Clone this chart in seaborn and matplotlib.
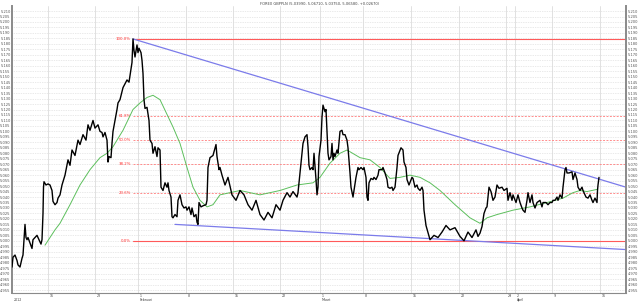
import matplotlib
matplotlib.use("Agg")
import matplotlib.pyplot as plt
import seaborn as sns
import numpy as np
import pandas as pd

# ---------------- data ----------------
bars = [0, 1, 3, 5, 6, 8, 10, 11, 12, 13, 14, 15, 16, 18, 20, 21, 23, 25, 26, 27, 29, 30, 31, 31.5, 32, 34, 36, 38, 40, 41, 43, 45, 46, 48,
        50, 53, 56, 58, 60, 63, 66, 68, 71, 74, 76, 78, 81, 83, 86, 88,
        90, 91, 93, 95, 96, 97, 99, 100, 101, 103, 105, 106, 108, 111, 115, 117, 120, 121, 122, 123, 125, 126, 127, 129, 130, 131, 132, 133,
        135, 137, 138, 140, 141, 143, 145, 146, 148, 149, 151, 153, 155, 156, 157, 159, 160, 161, 163, 165, 166, 168, 170, 172, 174, 175,
        177, 179, 180, 182, 184, 185, 186, 187, 189, 191, 194, 195, 196, 198, 201, 204, 205, 207, 208,
        210, 213, 216, 220, 224, 228, 232, 236, 240, 244, 248, 252, 256, 260, 264,
        268, 271, 275, 278, 281, 285, 286, 288, 290, 291, 293, 295, 296, 297, 298, 300, 301, 302, 304, 305, 306, 307, 309, 310, 311, 313,
        314, 315, 316, 317, 319, 320, 321, 322, 323, 325, 326, 328, 330, 331, 333, 335, 336, 338, 339, 341, 342, 344, 346, 347, 349, 351,
        352, 354, 355, 356, 357, 359, 361, 362, 364, 366, 367, 370, 371, 373, 375, 376, 378, 380, 381, 383, 385, 386, 389, 391, 392, 394,
        395, 397, 400, 401, 403, 405, 406, 408, 410, 411, 412,
        414, 418, 422, 426, 430, 434, 438, 443, 448, 452, 456, 460, 464, 466,
        468, 470, 472, 474, 475, 477, 479, 481, 483, 485, 487, 490, 492, 495, 496, 498, 500, 501, 504, 506, 508, 510, 511, 513, 515, 516,
        518, 520, 521, 523, 525, 528, 530, 531, 534, 536, 538, 540, 541, 543, 545, 546, 548, 550, 551, 553, 554, 555, 557, 560, 561, 563,
        565, 566, 568, 570, 571, 574, 576, 578, 580, 581, 583, 585, 585.5, 586, 587]
close = [4.976, 4.985, 4.987, 4.982, 4.978, 4.976, 4.984, 4.987, 5.001, 5.015, 5.003, 5.001, 5.003, 4.998, 4.993, 5.001, 5.003, 5.005, 5.003, 5.001, 4.997, 5.001, 5.025, 5.049, 5.054, 5.051, 5.052, 5.051, 5.046, 5.036, 5.033, 5.035, 5.039, 5.042,
         5.051, 5.060, 5.074, 5.069, 5.083, 5.078, 5.092, 5.088, 5.097, 5.092, 5.106, 5.101, 5.110, 5.103, 5.106, 5.100,
         5.099, 5.095, 5.099, 5.092, 5.072, 5.077, 5.076, 5.089, 5.100, 5.110, 5.120, 5.126, 5.129, 5.140, 5.147, 5.145, 5.163, 5.1845, 5.174, 5.168, 5.179, 5.172, 5.176, 5.172, 5.165, 5.153, 5.129, 5.121,
         5.122, 5.110, 5.092, 5.089, 5.080, 5.086, 5.077, 5.085, 5.083, 5.049, 5.046, 5.053, 5.049, 5.053, 5.046, 5.040, 5.022, 5.021, 5.024, 5.022, 5.037, 5.042, 5.033, 5.030, 5.031, 5.028,
         5.031, 5.024, 5.030, 5.022, 5.024, 5.017, 5.015, 5.035, 5.031, 5.032, 5.033, 5.037, 5.067, 5.076, 5.078, 5.088, 5.077, 5.065, 5.067,
         5.060, 5.051, 5.058, 5.042, 5.037, 5.046, 5.042, 5.033, 5.028, 5.037, 5.024, 5.019, 5.026, 5.021, 5.033,
         5.028, 5.037, 5.044, 5.040, 5.045, 5.040, 5.044, 5.062, 5.080, 5.089, 5.095, 5.097, 5.086, 5.069, 5.065, 5.067, 5.065, 5.080, 5.056, 5.042, 5.049, 5.077, 5.092, 5.113, 5.124, 5.118,
         5.120, 5.099, 5.080, 5.074, 5.077, 5.089, 5.074, 5.080, 5.077, 5.083, 5.080, 5.100, 5.101, 5.097, 5.097, 5.092, 5.085, 5.062, 5.049, 5.040, 5.046, 5.058, 5.067, 5.065, 5.067, 5.065,
         5.067, 5.058, 5.040, 5.037, 5.053, 5.057, 5.056, 5.058, 5.056, 5.060, 5.065, 5.065, 5.067, 5.062, 5.056, 5.049, 5.048, 5.049, 5.046, 5.049, 5.067, 5.078, 5.085, 5.083, 5.072, 5.067,
         5.056, 5.051, 5.058, 5.057, 5.049, 5.051, 5.048, 5.046, 5.049, 5.046, 5.028,
         5.014, 5.001, 5.005, 5.003, 5.008, 5.014, 5.010, 5.012, 5.004, 5.000, 5.008, 5.003, 5.010, 5.004,
         5.007, 5.013, 5.025, 5.030, 5.031, 5.049, 5.045, 5.037, 5.040, 5.051, 5.048, 5.049, 5.046, 5.048, 5.037, 5.044, 5.037, 5.042, 5.035, 5.042, 5.035, 5.030, 5.028, 5.026, 5.037, 5.044,
         5.035, 5.042, 5.035, 5.030, 5.035, 5.037, 5.031, 5.035, 5.035, 5.033, 5.035, 5.035, 5.037, 5.037, 5.040, 5.037, 5.042, 5.039, 5.049, 5.065, 5.067, 5.062, 5.062, 5.063, 5.056, 5.062,
         5.056, 5.049, 5.046, 5.049, 5.046, 5.040, 5.039, 5.042, 5.037, 5.035, 5.039, 5.035, 5.046, 5.051, 5.058]

ma_bars = [33, 43, 48, 58, 68, 78, 88, 95, 101, 111, 121, 128, 135, 141, 148, 161, 168, 175, 181, 188, 195, 201, 208, 228, 248,
           268, 285, 301, 308, 318, 328, 335, 348, 358, 368, 378, 388, 398, 408, 418, 428, 443, 458, 468, 475, 485, 501, 518, 535,
           551, 561, 568, 575, 585]
ma_vals = [4.996, 5.010, 5.016, 5.033, 5.051, 5.065, 5.076, 5.080, 5.086, 5.101, 5.120, 5.126, 5.131, 5.133, 5.129, 5.104, 5.089,
           5.067, 5.049, 5.037, 5.031, 5.033, 5.042, 5.046, 5.042, 5.046, 5.051, 5.053, 5.058, 5.071, 5.080, 5.083, 5.076, 5.074,
           5.067, 5.057, 5.058, 5.060, 5.058, 5.053, 5.046, 5.033, 5.021, 5.016, 5.021, 5.024, 5.028, 5.031, 5.035, 5.039, 5.044,
           5.046, 5.045, 5.047]

fib_ratios = [0.0, 23.6, 38.2, 50.0, 61.8, 100.0]
fib_high = 5.1845
fib_low = 5.000
fib_start_bar = 121

upper_trend_bars = [121, 614]
upper_trend_vals = [5.1845, 5.049]
lower_trend_bars = [163, 614]
lower_trend_vals = [5.015, 4.992]

date_tick_bars = [36, 83, 126, 174, 221, 268, 308, 351, 399, 447, 494, 503, 540, 588]
date_tick_labels = ["16", "23", "1", "8", "15", "22", "1", "8", "15", "22", "29", "2", "9", "16"]
month_bars = [0, 126, 308, 503]
month_labels = ["2012", "Februari", "Maart", "April"]

title_text = "FOREX GBPPLN (5.03990, 5.06710, 5.03750, 5.06580, +0.02670)"

y_min, y_max = 4.9523, 5.2146
tick_lo, tick_hi, tick_step = 4.955, 5.210, 0.005
x_max = 614

# ---------------- drawing ----------------
sns.set_theme(style="white")
plt.rcParams['font.family'] = ['DejaVu Sans']

fig = plt.figure(figsize=(6.4, 3.02), dpi=100)
fig.patch.set_facecolor("white")
ax = fig.add_axes([12 / 640, 9 / 302, 614 / 640, 287 / 302])
ax.set_facecolor("white")

ax.set_xlim(0, x_max)
ax.set_ylim(y_min, y_max)

yt = np.round(np.arange(tick_lo, tick_hi + tick_step / 2, tick_step), 3)
ax.set_yticks(yt)
ax.set_yticklabels([f"{v:.3f}" for v in yt])
ax.tick_params(axis="y", which="both", labelsize=2.6, length=0, pad=1.0,
               labelleft=True, labelright=True, colors="#444444")
for t in ax.get_yticklabels():
    t.set_color("#555555")

# grid
for v in yt:
    ax.axhline(v, color="#d4d4d4", lw=0.5, ls=(0, (1, 1.5)), zorder=0)
for b in date_tick_bars:
    ax.axvline(b, color="#dcdcdc", lw=0.6, zorder=0)

# fibonacci levels
rng = fib_high - fib_low
for r in fib_ratios:
    lvl = fib_low + rng * r / 100.0
    solid = r in (0.0, 100.0)
    ax.plot([fib_start_bar, x_max], [lvl, lvl], color="#ff5a5a" if solid else "#ff8c8c",
            lw=0.8 if solid else 0.7, ls="-" if solid else (0, (2, 1.5)), zorder=1)
    ax.text(fib_start_bar - 2, lvl, f"{r:.1f}%", color="#ff3030", fontsize=2.8,
            ha="right", va="center", zorder=3)

# trend lines
tl = pd.DataFrame({"bar": upper_trend_bars + lower_trend_bars,
                   "value": upper_trend_vals + lower_trend_vals,
                   "line": ["up", "up", "low", "low"]})
sns.lineplot(data=tl, x="bar", y="value", units="line", estimator=None,
             color="#7b7bea", lw=0.9, ax=ax, zorder=2)

# moving average
ma_df = pd.DataFrame({"bar": ma_bars, "value": ma_vals})
sns.lineplot(data=ma_df, x="bar", y="value", color="#5cbf5c", lw=0.7, ax=ax, zorder=3)

# price
px_df = pd.DataFrame({"bar": bars, "value": close})
sns.lineplot(data=px_df, x="bar", y="value", color="black", lw=1.0, ax=ax, zorder=4)

ax.set_xlabel("")
ax.set_ylabel("")

# x axis (date bar)
ax.set_xticks(date_tick_bars)
ax.set_xticklabels([])
ax.tick_params(axis="x", length=3.2, width=0.6, colors="#666666", direction="out")
for b, lab in zip(date_tick_bars, date_tick_labels):
    ax.annotate(lab, xy=(b, 0), xycoords=("data", "axes fraction"),
                xytext=(1.2, -0.5), textcoords="offset points",
                fontsize=2.3, color="#444444", ha="left", va="top", annotation_clip=False)
for b, lab in zip(month_bars, month_labels):
    ax.annotate(lab, xy=(b, 0), xycoords=("data", "axes fraction"),
                xytext=(1.2, -3.4), textcoords="offset points",
                fontsize=2.3, color="#444444", ha="left", va="top", annotation_clip=False)

for side in ("left", "right"):
    ax.spines[side].set_color("#8a8a8a")
    ax.spines[side].set_linewidth(1.4)
ax.spines["top"].set_visible(False)
ax.spines["bottom"].set_color("#8a8a8a")
ax.spines["bottom"].set_linewidth(0.8)

fig.text(0.5, 0.992, title_text, fontsize=2.6, color="#444444", ha="center", va="top")

fig.savefig("out.png", dpi=100, facecolor="white")
